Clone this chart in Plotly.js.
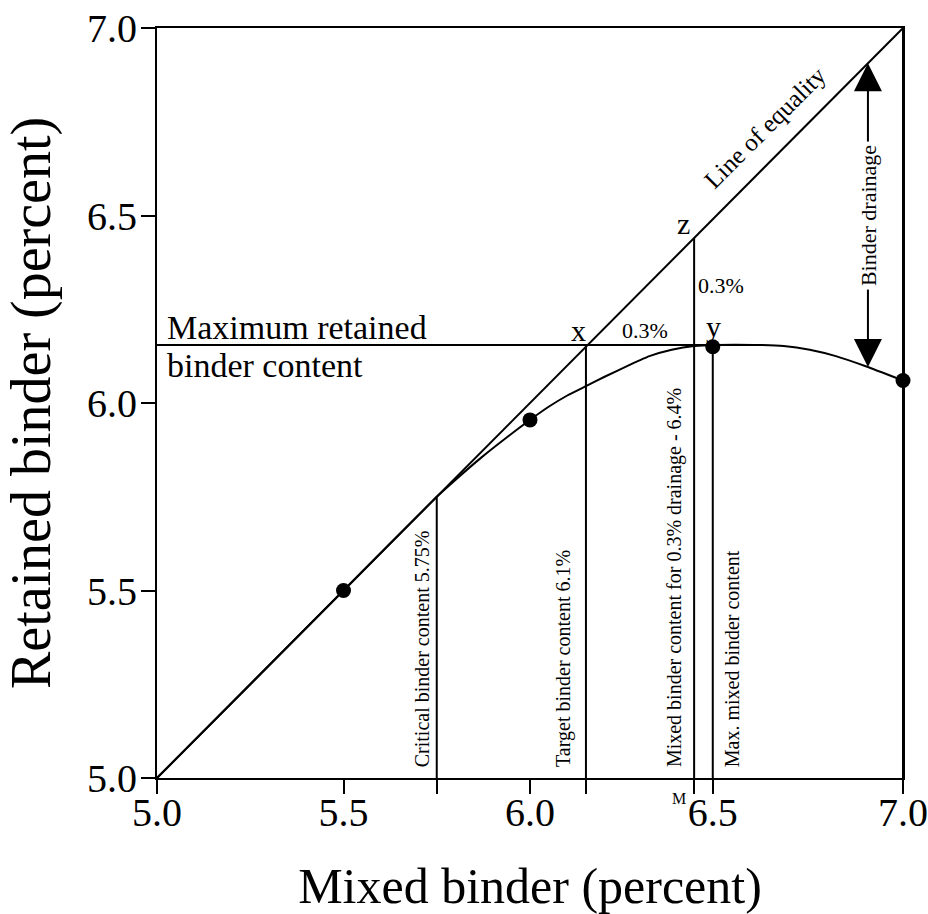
<!DOCTYPE html>
<html>
<head>
<meta charset="utf-8">
<script src="https://cdn.plot.ly/plotly-3.0.1.min.js"></script>
<style>html,body{margin:0;padding:0;background:#fff;}#chart{width:928px;height:914px;}</style>
</head>
<body>
<div id="chart"></div>
<script>
// ---- data ----
const equalityX = [5.0, 7.0];
const equalityY = [5.0, 7.0];

const curveX = [5.0, 5.5, 5.75, 5.8, 5.87, 5.94, 6.0, 6.05, 6.1, 6.15, 6.2, 6.27, 6.32, 6.38, 6.44, 6.5, 6.6, 6.68, 6.75, 6.82, 6.9, 7.0];
const curveY = [5.0, 5.5, 5.75, 5.795, 5.855, 5.91, 5.955, 5.99, 6.02, 6.045, 6.07, 6.103, 6.125, 6.142, 6.152, 6.155, 6.155, 6.152, 6.142, 6.125, 6.098, 6.06];

const pointX = [5.5, 6.0, 6.49, 7.0];
const pointY = [5.5, 5.955, 6.15, 6.06];

const maxRetained = 6.155;
const maxRetainedEndX = 6.62;

const guideX = [5.75, 6.15, 6.44, 6.49, 7.0];
const guideTop = [5.75, 6.155, 6.44, 6.15, 7.0];
const guideLabels = ['Critical binder content 5.75%', 'Target binder content 6.1%',
  'Mixed binder content for 0.3% drainage - 6.4%', 'Max. mixed binder content', ''];

const drainX = 6.906;
const drainTop = 6.906;
const drainBottom = 6.096;

const xTickVals = [5.0, 5.5, 5.75, 6.0, 6.15, 6.44, 6.49, 7.0];
const xTickText = ['5.0', '5.5', '', '6.0', '', '', '6.5', '7.0'];
const yTickVals = [5.0, 5.5, 6.0, 6.5, 7.0];
const yTickText = ['5.0', '5.5', '6.0', '6.5', '7.0'];

// ---- chart ----
const FONT = 'Liberation Serif, Times New Roman, serif';
const traces = [
  {x: equalityX, y: equalityY, mode: 'lines', line: {color: '#000', width: 2}, hoverinfo: 'skip'},
  {x: curveX, y: curveY, mode: 'lines', line: {color: '#000', width: 2, shape: 'spline', smoothing: 0.4}, hoverinfo: 'skip'},
  {x: pointX, y: pointY, mode: 'markers', marker: {color: '#000', size: 15}, cliponaxis: false, hoverinfo: 'skip'}
];

const shapes = [];
shapes.push({type: 'line', xref: 'x', yref: 'y', x0: 5.0, x1: maxRetainedEndX, y0: maxRetained, y1: maxRetained,
  line: {color: '#000', width: 2}});
for (let i = 0; i < guideX.length; i++) {
  shapes.push({type: 'line', xref: 'x', yref: 'y', x0: guideX[i], x1: guideX[i], y0: 5.0, y1: guideTop[i],
    line: {color: '#000', width: 2}});
}

const annotations = [];
// rotated guide labels
annotations.push({x: guideX[0], y: 5.0, xref: 'x', yref: 'y', text: guideLabels[0], textangle: -90, showarrow: false,
  xanchor: 'right', yanchor: 'bottom', xshift: -2, yshift: 9, font: {size: 20}});
annotations.push({x: guideX[1], y: 5.0, xref: 'x', yref: 'y', text: guideLabels[1], textangle: -90, showarrow: false,
  xanchor: 'right', yanchor: 'bottom', xshift: -9, yshift: 9, font: {size: 20}});
annotations.push({x: guideX[2], y: 5.0, xref: 'x', yref: 'y', text: guideLabels[2], textangle: -90, showarrow: false,
  xanchor: 'right', yanchor: 'bottom', xshift: -6, yshift: 9, font: {size: 20}});
annotations.push({x: guideX[3], y: 5.0, xref: 'x', yref: 'y', text: guideLabels[3], textangle: -90, showarrow: false,
  xanchor: 'left', yanchor: 'bottom', xshift: 6, yshift: 9, font: {size: 20}});

// max retained label
annotations.push({x: 5.0, y: maxRetained, xref: 'x', yref: 'y', text: 'Maximum retained', showarrow: false,
  xanchor: 'left', yanchor: 'bottom', xshift: 8, yshift: -3, font: {size: 34}});
annotations.push({x: 5.0, y: maxRetained, xref: 'x', yref: 'y', text: 'binder content', showarrow: false,
  xanchor: 'left', yanchor: 'top', xshift: 8, yshift: 0, font: {size: 34}});

// point letters
annotations.push({x: guideX[1], y: maxRetained, xref: 'x', yref: 'y', text: 'x', showarrow: false,
  xanchor: 'center', yanchor: 'bottom', xshift: -7, yshift: -4, font: {size: 30}});
annotations.push({x: guideX[2], y: guideTop[2], xref: 'x', yref: 'y', text: 'z', showarrow: false,
  xanchor: 'center', yanchor: 'bottom', xshift: -11, yshift: -4, font: {size: 30}});
annotations.push({x: guideX[3], y: maxRetained, xref: 'x', yref: 'y', text: 'y', showarrow: false,
  xanchor: 'center', yanchor: 'bottom', xshift: 1, yshift: 0, font: {size: 30}});
annotations.push({x: (guideX[1] + guideX[2]) / 2, y: maxRetained, xref: 'x', yref: 'y', text: '0.3%', showarrow: false,
  xanchor: 'center', yanchor: 'bottom', xshift: 5, yshift: 0, font: {size: 22}});
annotations.push({x: guideX[2], y: (guideTop[2] + maxRetained) / 2, xref: 'x', yref: 'y', text: '0.3%', showarrow: false,
  xanchor: 'left', yanchor: 'middle', xshift: 2, yshift: 6, font: {size: 22}});
annotations.push({x: guideX[2], y: 5.0, xref: 'x', yref: 'y', text: 'M', showarrow: false,
  xanchor: 'center', yanchor: 'top', xshift: -15, yshift: -10, font: {size: 16}});

// line of equality label
annotations.push({x: 6.63, y: 6.735, xref: 'x', yref: 'y', text: 'Line of equality', textangle: -45, showarrow: false,
  xanchor: 'center', yanchor: 'middle', font: {size: 25}});

// binder drainage arrows
const drainMid = (drainTop + drainBottom) / 2;
annotations.push({x: drainX, y: drainTop, ax: drainX, ay: drainMid, xref: 'x', yref: 'y', axref: 'x', ayref: 'y',
  text: '', showarrow: true, arrowhead: 2, arrowsize: 2.8, arrowwidth: 2, arrowcolor: '#000'});
annotations.push({x: drainX, y: drainBottom, ax: drainX, ay: drainMid, xref: 'x', yref: 'y', axref: 'x', ayref: 'y',
  text: '', showarrow: true, arrowhead: 2, arrowsize: 2.8, arrowwidth: 2, arrowcolor: '#000'});
annotations.push({x: drainX, y: drainMid, xref: 'x', yref: 'y', text: 'Binder drainage', textangle: -90, showarrow: false,
  bgcolor: '#fff', borderpad: 3, font: {size: 22}});

const layout = {
  width: 928, height: 914,
  margin: {l: 157, r: 25, t: 28, b: 136},
  paper_bgcolor: '#fff', plot_bgcolor: '#fff',
  showlegend: false,
  font: {family: FONT, color: '#000'},
  xaxis: {
    range: [5.0, 7.0], tickvals: xTickVals, ticktext: xTickText,
    ticks: 'outside', ticklen: 14, tickwidth: 2, tickcolor: '#000',
    ticklabelstandoff: -16,
    showline: true, linewidth: 2, linecolor: '#000', mirror: true,
    showgrid: false, zeroline: false,
    tickfont: {size: 40, family: FONT},
    title: {text: 'Mixed binder (percent)', font: {size: 50, family: FONT}, standoff: 36}
  },
  yaxis: {
    range: [5.0, 7.0], tickvals: yTickVals, ticktext: yTickText,
    ticks: 'outside', ticklen: 14, tickwidth: 2, tickcolor: '#000',
    ticklabelstandoff: -4,
    showline: true, linewidth: 2, linecolor: '#000', mirror: true,
    showgrid: false, zeroline: false,
    tickfont: {size: 40, family: FONT},
    title: {text: 'Retained binder (percent)', font: {size: 56, family: FONT}, standoff: 20}
  },
  shapes: shapes,
  annotations: annotations
};

Plotly.newPlot('chart', traces, layout, {displayModeBar: false, staticPlot: true});
</script>
</body>
</html>
